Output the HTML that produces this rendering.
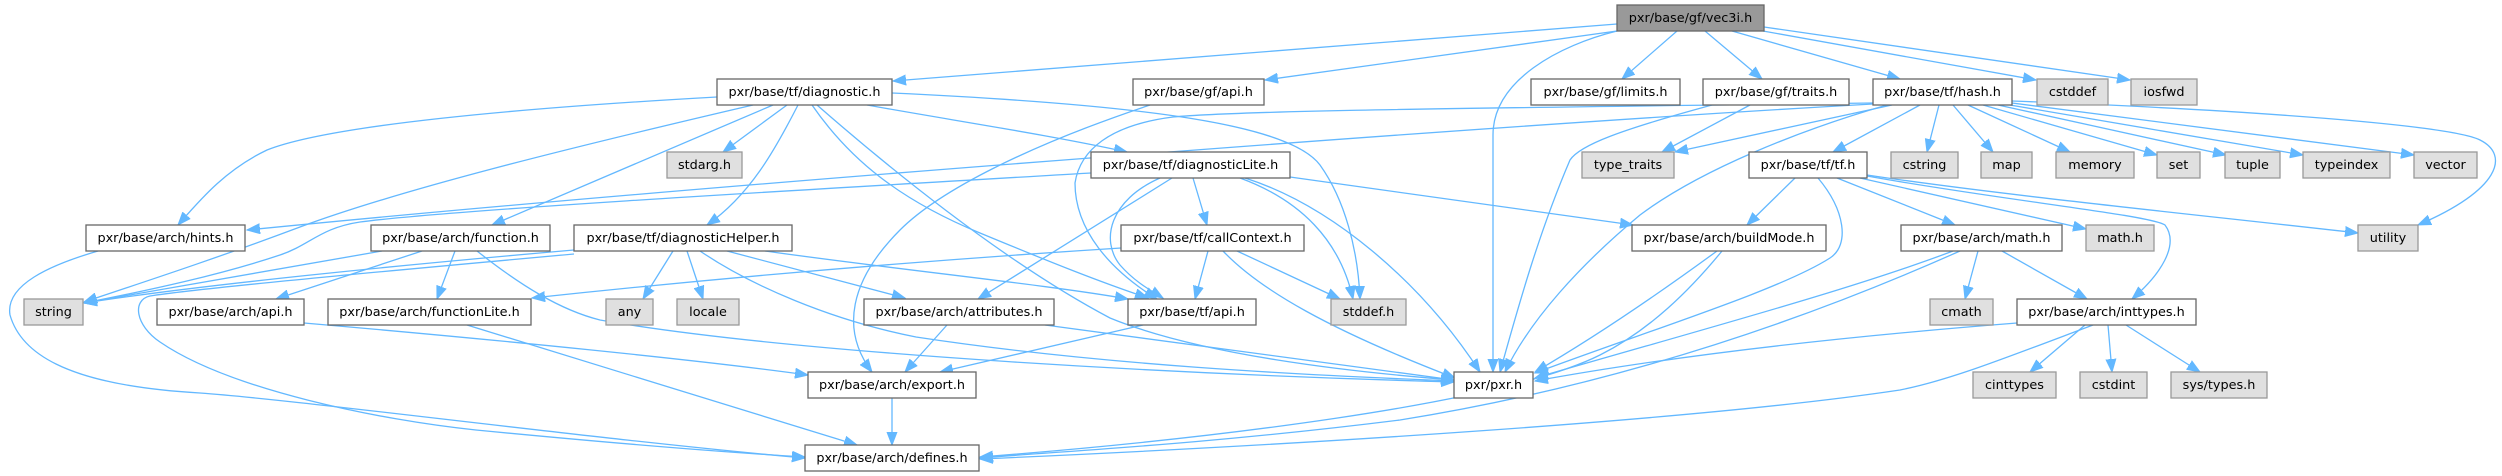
<!DOCTYPE html>
<html><head><meta charset="utf-8"><style>
html,body{margin:0;padding:0;background:#fff;}
svg{display:block;}
text{font-family:"DejaVu Sans","Liberation Sans",sans-serif;font-size:12.8px;fill:#000;text-anchor:middle;}
.e{fill:none;stroke:#63b8ff;stroke-width:1.3;marker-end:url(#ah);}
.w{fill:#fff;stroke:#666;stroke-width:1.3;}
.g{fill:#e0e0e0;stroke:#999;stroke-width:1.3;}
.r{fill:#999;stroke:#666;stroke-width:1.3;}
</style></head><body>
<svg width="2502" height="476" viewBox="0 0 2502 476" xmlns="http://www.w3.org/2000/svg">
<defs><marker id="ah" markerUnits="userSpaceOnUse" markerWidth="14" markerHeight="11" viewBox="0 0 14 11" refX="13" refY="5.5" orient="auto"><path d="M0,0.5 L13,5.5 L0,10.5 z" fill="#63b8ff" stroke="#63b8ff" stroke-width="1"/></marker></defs>
<rect width="2502" height="476" fill="#fff"/>
<g>
<!-- vec3i -->
<path class="e" d="M1617,24 L893,81"/>
<path class="e" d="M1617,31 L1265,80"/>
<path class="e" d="M1617,31 C1560,45 1493,80 1493,135 L1493,372"/>
<path class="e" d="M1677,31 L1622,79"/>
<path class="e" d="M1705,31 L1762,79"/>
<path class="e" d="M1732,31 L1900,79"/>
<path class="e" d="M1763,31 L2036,80"/>
<path class="e" d="M1764,27 L2130,80"/>
<!-- diagnostic -->
<path class="e" d="M717,97 C520,108 330,125 267,150 C225,170 200,200 178,225"/>
<path class="e" d="M753,105 C560,150 400,190 300,227 C220,257 150,280 84,302"/>
<path class="e" d="M773,105 L492,225"/>
<path class="e" d="M787,105 L723,152"/>
<path class="e" d="M798,105 C775,150 750,195 707,225"/>
<path class="e" d="M812,105 C850,160 900,200 980,233 C1050,262 1100,282 1148,298"/>
<path class="e" d="M817,105 C880,160 1000,260 1110,318 C1200,355 1350,372 1454,380"/>
<path class="e" d="M867,105 C950,120 1050,135 1127,152"/>
<path class="e" d="M892,93 C1150,105 1290,125 1320,165 C1345,200 1358,250 1360,299"/>
<!-- gf/api -->
<path class="e" d="M1150,105 C1030,145 940,190 900,230 C850,280 840,330 872,372"/>
<!-- diagnosticLite -->
<path class="e" d="M1091,173 C800,190 450,210 360,222 C320,228 310,245 280,255 C220,275 150,290 84,303"/>
<path class="e" d="M1172,178 L978,299"/>
<path class="e" d="M1160,178 C1110,200 1100,240 1120,265 C1135,282 1150,290 1163,298"/>
<path class="e" d="M1193,178 L1207,225"/>
<path class="e" d="M1290,177 L1633,225"/>
<path class="e" d="M1240,178 C1300,200 1340,240 1353,299"/>
<path class="e" d="M1245,178 C1330,205 1420,280 1480,372"/>
<!-- callContext -->
<path class="e" d="M1121,248 C900,262 700,280 532,298"/>
<path class="e" d="M1208,251 L1195,299"/>
<path class="e" d="M1237,251 L1340,299"/>
<path class="e" d="M1223,251 C1260,290 1330,330 1455,378"/>
<!-- diagnosticHelper -->
<path class="e" d="M574,250 C400,265 200,285 84,303"/>
<path class="e" d="M673,251 L643,299"/>
<path class="e" d="M687,251 L703,299"/>
<path class="e" d="M727,251 L905,298"/>
<path class="e" d="M765,251 C900,270 1050,285 1128,299"/>
<path class="e" d="M700,251 C750,285 830,320 916,337 C1100,365 1300,375 1454,381"/>
<path class="e" d="M574,254 C420,268 200,288 150,296 C132,300 135,325 160,342 C230,390 380,420 476,430 C600,442 720,452 805,457"/>
<!-- function -->
<path class="e" d="M382,251 L84,303"/>
<path class="e" d="M422,251 L276,299"/>
<path class="e" d="M455,251 L437,299"/>
<path class="e" d="M477,251 C520,285 560,310 600,320 C800,355 1200,375 1454,382"/>
<!-- hints -->
<path class="e" d="M98,251 C50,265 5,285 10,315 C20,350 60,385 200,393 C300,400 600,440 805,458"/>
<!-- arch/api, functionLite, attributes, tf/api, export -->
<path class="e" d="M304,323 C500,340 700,360 808,375"/>
<path class="e" d="M467,325 L857,445"/>
<path class="e" d="M947,325 L905,372"/>
<path class="e" d="M1045,325 C1200,345 1350,365 1454,380"/>
<path class="e" d="M1143,325 L940,372"/>
<path class="e" d="M892,398 L892,445"/>
<!-- traits -->
<path class="e" d="M1750,105 L1662,152"/>
<path class="e" d="M1712,105 C1620,130 1580,145 1570,160 C1540,230 1520,300 1500,372"/>
<!-- hash -->
<path class="e" d="M1920,105 L1833,152"/>
<path class="e" d="M1939,105 L1927,152"/>
<path class="e" d="M1953,105 L1993,152"/>
<path class="e" d="M1968,105 L2070,152"/>
<path class="e" d="M1983,105 L2157,155"/>
<path class="e" d="M1998,105 L2226,155"/>
<path class="e" d="M2010,105 L2303,155"/>
<path class="e" d="M2012,103 L2414,155"/>
<path class="e" d="M2012,101 C2250,110 2450,125 2480,140 C2510,155 2500,190 2418,225"/>
<path class="e" d="M1892,105 L1675,152"/>
<path class="e" d="M1887,105 C1800,130 1700,170 1640,215 C1580,265 1530,320 1505,372"/>
<path class="e" d="M1873,104 C1500,125 700,185 247,230"/>
<path class="e" d="M1873,103 C1500,108 1250,110 1173,117 C1110,125 1080,150 1075,183 C1075,230 1110,270 1157,299"/>
<!-- tf.h -->
<path class="e" d="M1795,178 L1747,225"/>
<path class="e" d="M1818,178 C1845,210 1850,245 1830,258 C1780,290 1650,330 1535,373"/>
<path class="e" d="M1837,178 L1955,225"/>
<path class="e" d="M1860,178 L2086,229"/>
<path class="e" d="M1867,176 C2000,200 2150,215 2165,225 C2180,245 2160,275 2132,299"/>
<path class="e" d="M1867,175 C2000,195 2200,215 2358,233"/>
<!-- buildMode -->
<path class="e" d="M1717,251 C1650,300 1590,340 1535,372"/>
<path class="e" d="M1722,251 C1690,290 1650,330 1600,355 C1500,405 1200,440 980,457"/>
<!-- arch/math -->
<path class="e" d="M1978,251 L1965,299"/>
<path class="e" d="M2002,251 L2087,299"/>
<path class="e" d="M1953,251 C1850,290 1700,330 1535,378"/>
<path class="e" d="M1960,251 C1850,300 1650,380 1400,420 C1200,445 1050,452 980,458"/>
<!-- inttypes -->
<path class="e" d="M2085,325 L2030,372"/>
<path class="e" d="M2108,325 L2112,372"/>
<path class="e" d="M2126,325 L2200,372"/>
<path class="e" d="M2017,323 C1800,340 1650,360 1535,381"/>
<path class="e" d="M2093,325 C2000,360 1950,380 1900,390 C1700,420 1300,445 980,459"/>
</g>
<g>
<rect class="r" x="1617" y="5" width="147" height="26"/><text x="1690.5" y="22">pxr/base/gf/vec3i.h</text>
<rect class="w" x="717" y="79" width="175" height="26"/><text x="804.5" y="96">pxr/base/tf/diagnostic.h</text>
<rect class="w" x="1133" y="79" width="131" height="26"/><text x="1198.5" y="96">pxr/base/gf/api.h</text>
<rect class="w" x="1531" y="79" width="149" height="26"/><text x="1605.5" y="96">pxr/base/gf/limits.h</text>
<rect class="w" x="1703" y="79" width="146" height="26"/><text x="1776" y="96">pxr/base/gf/traits.h</text>
<rect class="w" x="1873" y="79" width="139" height="26"/><text x="1942.5" y="96">pxr/base/tf/hash.h</text>
<rect class="g" x="2037" y="79" width="71" height="26"/><text x="2072.5" y="96">cstddef</text>
<rect class="g" x="2131" y="79" width="66" height="26"/><text x="2164" y="96">iosfwd</text>
<rect class="g" x="667" y="152" width="75" height="26"/><text x="704.5" y="169">stdarg.h</text>
<rect class="w" x="1091" y="152" width="199" height="26"/><text x="1190.5" y="169">pxr/base/tf/diagnosticLite.h</text>
<rect class="g" x="1582" y="152" width="92" height="26"/><text x="1628" y="169">type_traits</text>
<rect class="w" x="1749" y="152" width="118" height="26"/><text x="1808" y="169">pxr/base/tf/tf.h</text>
<rect class="g" x="1891" y="152" width="67" height="26"/><text x="1924.5" y="169">cstring</text>
<rect class="g" x="1981" y="152" width="51" height="26"/><text x="2006.5" y="169">map</text>
<rect class="g" x="2056" y="152" width="78" height="26"/><text x="2095" y="169">memory</text>
<rect class="g" x="2157" y="152" width="43" height="26"/><text x="2178.5" y="169">set</text>
<rect class="g" x="2225" y="152" width="55" height="26"/><text x="2252.5" y="169">tuple</text>
<rect class="g" x="2303" y="152" width="87" height="26"/><text x="2346.5" y="169">typeindex</text>
<rect class="g" x="2414" y="152" width="63" height="26"/><text x="2445.5" y="169">vector</text>
<rect class="w" x="86" y="225" width="159" height="26"/><text x="165.5" y="242">pxr/base/arch/hints.h</text>
<rect class="w" x="371" y="225" width="179" height="26"/><text x="460.5" y="242">pxr/base/arch/function.h</text>
<rect class="w" x="574" y="225" width="218" height="26"/><text x="683" y="242">pxr/base/tf/diagnosticHelper.h</text>
<rect class="w" x="1121" y="225" width="183" height="26"/><text x="1212.5" y="242">pxr/base/tf/callContext.h</text>
<rect class="w" x="1632" y="225" width="194" height="26"/><text x="1729" y="242">pxr/base/arch/buildMode.h</text>
<rect class="w" x="1901" y="225" width="161" height="26"/><text x="1981.5" y="242">pxr/base/arch/math.h</text>
<rect class="g" x="2086" y="225" width="68" height="26"/><text x="2120" y="242">math.h</text>
<rect class="g" x="2358" y="225" width="60" height="26"/><text x="2388" y="242">utility</text>
<rect class="g" x="24" y="299" width="59" height="26"/><text x="53.5" y="316">string</text>
<rect class="w" x="157" y="299" width="147" height="26"/><text x="230.5" y="316">pxr/base/arch/api.h</text>
<rect class="w" x="328" y="299" width="203" height="26"/><text x="429.5" y="316">pxr/base/arch/functionLite.h</text>
<rect class="g" x="606" y="299" width="47" height="26"/><text x="629.5" y="316">any</text>
<rect class="g" x="677" y="299" width="62" height="26"/><text x="708" y="316">locale</text>
<rect class="w" x="864" y="299" width="190" height="26"/><text x="959" y="316">pxr/base/arch/attributes.h</text>
<rect class="w" x="1128" y="299" width="128" height="26"/><text x="1192" y="316">pxr/base/tf/api.h</text>
<rect class="g" x="1331" y="299" width="75" height="26"/><text x="1368.5" y="316">stddef.h</text>
<rect class="g" x="1930" y="299" width="63" height="26"/><text x="1961.5" y="316">cmath</text>
<rect class="w" x="2017" y="299" width="179" height="26"/><text x="2106.5" y="316">pxr/base/arch/inttypes.h</text>
<rect class="w" x="1454" y="372" width="79" height="26"/><text x="1493.5" y="389">pxr/pxr.h</text>
<rect class="w" x="808" y="372" width="168" height="26"/><text x="892" y="389">pxr/base/arch/export.h</text>
<rect class="g" x="1973" y="372" width="83" height="26"/><text x="2014.5" y="389">cinttypes</text>
<rect class="g" x="2080" y="372" width="67" height="26"/><text x="2113.5" y="389">cstdint</text>
<rect class="g" x="2171" y="372" width="96" height="26"/><text x="2219" y="389">sys/types.h</text>
<rect class="w" x="805" y="445" width="174" height="26"/><text x="892" y="462">pxr/base/arch/defines.h</text>
</g>
</svg>
</body></html>
